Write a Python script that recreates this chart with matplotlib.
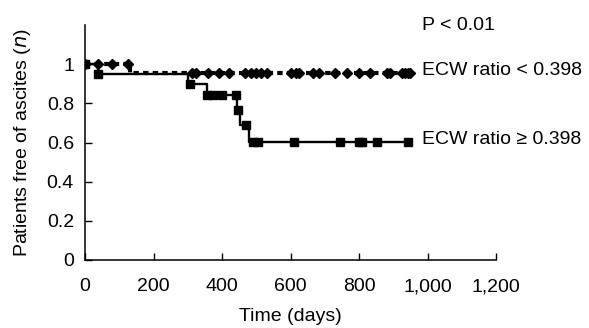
import matplotlib
matplotlib.use("Agg")
import matplotlib.pyplot as plt
import numpy as np

plt.rcParams['font.family'] = ['Liberation Sans', 'DejaVu Sans']

# Kaplan-Meier step curves (time in days, survival fraction)
low_times = [0, 130, 950]
low_surv = [1.0, 0.955, 0.955]
low_censor = [0, 38, 79, 126, 312, 325, 359, 392, 420, 468, 485, 500, 515, 530,
              600, 615, 625, 665, 682, 730, 765, 800, 832, 882, 890, 925, 935, 943, 948]

high_times = [0, 38, 300, 355, 444, 453, 479, 943]
high_surv = [1.0, 0.95, 0.898, 0.845, 0.768, 0.69, 0.605, 0.605]
high_censor = [0, 38, 307, 355, 375, 400, 440, 447, 470, 490, 505, 610, 745, 800, 810, 852, 943]

x_ticks = [0, 200, 400, 600, 800, 1000, 1200]
x_tick_labels = ["0", "200", "400", "600", "800", "1,000", "1,200"]
y_ticks = [0, 0.2, 0.4, 0.6, 0.8, 1.0]
y_tick_labels = ["0", "0.2", "0.4", "0.6", "0.8", "1"]

label_low = "ECW ratio < 0.398"
label_high = "ECW ratio \u2265 0.398"
p_text = "P < 0.01"


def step_value(times, surv, t):
    idx = np.searchsorted(times, t, side='right') - 1
    return np.asarray(surv)[np.clip(idx, 0, len(surv) - 1)]


fig = plt.figure(figsize=(5.89, 3.28), dpi=100)
ax = fig.add_axes([85 / 589, 1 - 260 / 328, 411 / 589, 235 / 328])

ax.step(low_times, low_surv, where='post', color='black', lw=3.0,
        linestyle=(0, (1.3, 1.0)))
ax.plot(low_censor, step_value(low_times, low_surv, low_censor), 'D',
        color='black', ms=5, linestyle='none')

ax.step(high_times, high_surv, where='post', color='black', lw=1.7)
ax.plot(high_censor, step_value(high_times, high_surv, high_censor), 's',
        color='black', ms=6, linestyle='none')

ax.set_xlim(0, 1200)
ax.set_ylim(0, 1.2)
ax.set_xticks(x_ticks)
ax.set_xticklabels(x_tick_labels)
ax.set_yticks(y_ticks)
ax.set_yticklabels(y_tick_labels)
ax.tick_params(axis='both', direction='in', length=5, width=1, labelsize=14)
ax.tick_params(axis='y', pad=8)
ax.tick_params(axis='x', pad=13)
for s in ['top', 'right']:
    ax.spines[s].set_visible(False)
for s in ['left', 'bottom']:
    ax.spines[s].set_linewidth(1.1)

ax.set_xlabel("Time (days)", fontsize=14, labelpad=9)
ax.set_ylabel("Patients free of ascites ($\\it{n}$)", fontsize=14, labelpad=10)

ax.text(985, 0.97, label_low, fontsize=14, va='center', ha='left')
ax.text(985, 0.615, label_high, fontsize=14, va='center', ha='left')
ax.text(985, 1.2, p_text, fontsize=14, va='center', ha='left')

fig.savefig("out.png", dpi=100)
